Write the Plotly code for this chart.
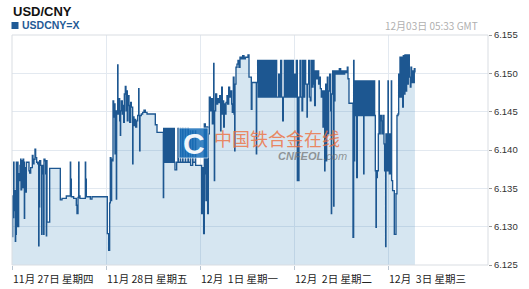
import plotly.graph_objects as go

# ---- data (hours since 11月27日 00:00, trading days only; USD/CNY rate) ----
hours = [
    0.00, 0.09, 0.17, 0.34, 0.43, 0.51, 0.68, 0.85, 0.94, 1.11, 1.19, 1.36, 1.45, 1.53, 1.70, 1.87,
    2.04, 2.21, 2.30, 2.47, 2.64, 2.81, 2.98, 3.15, 3.23, 3.40, 3.57, 3.66, 4.34, 4.51, 4.77, 5.19,
    5.36, 5.62, 5.87, 6.04, 6.30, 6.55, 6.81, 6.89, 6.98, 7.06, 7.32, 7.57, 7.66, 8.00, 8.08, 8.17,
    8.42, 8.60, 8.77, 8.85, 8.94, 9.62, 12.34, 12.77, 13.87, 14.89, 14.98, 15.15, 15.74, 16.42,
    16.59, 16.85, 17.02, 17.11, 17.36, 18.72, 18.81, 18.98, 20.00, 20.42,
    24.34, 24.68, 24.93, 25.10, 25.27, 25.44, 25.61, 25.79, 25.96, 26.13, 26.30, 26.47, 26.64, 26.72,
    26.98, 27.06, 27.23, 27.49, 27.66, 27.74, 27.91, 28.17, 28.34, 28.51, 28.68, 28.93, 29.10, 29.27,
    29.44, 29.62, 29.87, 30.04, 30.30, 30.47, 30.81, 30.89, 31.15, 31.32, 31.57, 31.83, 32.08, 32.34,
    32.42, 32.59, 32.68, 33.02, 33.36, 33.70, 34.04, 34.47, 36.59, 37.02, 38.64, 38.72, 38.98, 39.15,
    39.32, 39.49, 39.74, 39.91, 40.17, 40.42, 40.59, 40.85, 41.02, 41.27, 41.44, 41.61, 42.04, 42.38,
    42.47, 42.98, 43.06, 43.57, 43.66, 44.25, 44.34, 44.93, 45.02, 45.53, 45.61, 46.12, 46.21, 46.81,
    46.89,
    48.42, 48.68, 48.93, 49.10, 49.36, 49.53, 49.70, 49.96, 50.13, 50.38, 50.64, 50.89, 51.15, 51.32,
    51.49, 51.57, 51.66, 51.74, 52.00, 52.25, 52.51, 52.76, 53.02, 53.27, 53.36, 53.53, 53.70, 53.87,
    54.04, 54.21, 54.47, 54.64, 54.89, 55.06, 55.32, 55.57, 55.83, 56.08, 56.25, 56.51, 56.68, 56.85,
    56.93, 57.19, 57.44, 57.70, 57.95, 58.21, 58.55, 58.89, 59.23, 59.57, 60.25, 60.51, 61.10, 61.27,
    62.38, 62.47, 62.72, 62.89, 63.06, 63.23, 63.40, 63.66, 63.83, 64.08, 64.25, 64.51, 64.76, 65.02,
    65.27, 65.53, 65.79, 66.04, 66.30, 66.55, 66.81, 67.06, 67.40, 67.57, 68.08, 68.34, 68.59, 68.85,
    69.11, 69.27, 69.53, 69.79, 70.04, 70.30, 70.55, 70.81, 71.06, 71.32, 71.57, 71.83, 72.08, 72.34,
    72.59, 72.85, 72.93,
    73.19, 73.27, 73.53, 73.78, 74.04, 74.21, 74.46, 74.72, 74.97, 75.32, 75.40, 75.74, 75.91, 76.17,
    76.34, 76.59, 76.85, 77.10, 77.27, 77.44, 77.70, 77.95, 78.29, 78.46, 78.72, 78.97, 79.14, 79.40,
    79.57, 79.83, 79.91, 80.08, 80.25, 80.34, 80.51, 80.67, 80.85, 81.10, 81.36, 81.53, 81.61, 81.87,
    82.12, 82.21, 82.46, 82.63, 82.89, 83.23, 83.57, 83.91, 84.25, 84.59, 84.93, 85.27, 85.61, 85.78,
    86.04, 87.06, 87.23, 87.32, 87.49, 87.66, 87.83, 88.00, 88.17, 88.34, 88.51, 88.68, 88.94, 89.19,
    89.36, 89.62, 89.79, 89.87, 90.13, 90.30, 90.55, 90.81, 91.06, 91.32, 91.57, 91.83, 92.08, 92.34,
    92.59, 92.76, 92.93, 93.02, 93.27, 93.53, 93.70, 93.78, 94.02, 94.29, 94.44, 94.70, 94.97, 95.14,
    95.40, 95.48, 95.74, 96.00, 96.08, 96.34, 96.59, 96.85, 96.93, 97.18, 97.61, 98.04, 98.29, 98.55,
    98.72, 98.89, 99.06, 99.32, 99.49, 99.74, 99.91, 100.16, 100.33, 100.59, 100.76, 101.01, 101.18,
    101.44, 101.70, 101.86, 102.03, 102.29, 102.54, 102.71, 102.88,
]

rates = [
    6.1340, 6.1287, 6.1340, 6.1312, 6.1384, 6.1321, 6.1347, 6.1281, 6.1290, 6.1384, 6.1300, 6.1349, 6.1384, 6.1300, 6.1369, 6.1360,
    6.1380, 6.1388, 6.1348, 6.1386, 6.1351, 6.1388, 6.1384, 6.1311, 6.1377, 6.1367, 6.1345, 6.1384, 6.1373, 6.1370, 6.1377, 6.1393,
    6.1382, 6.1388, 6.1401, 6.1390, 6.1384, 6.1382, 6.1275, 6.1384, 6.1326, 6.1386, 6.1380, 6.1290, 6.1380, 6.1369, 6.1290, 6.1388,
    6.1386, 6.1369, 6.1288, 6.1386, 6.1306, 6.1376, 6.1335, 6.1337, 6.1340, 6.1384, 6.1362, 6.1339, 6.1337, 6.1328,
    6.1317, 6.1338, 6.1384, 6.1340, 6.1337, 6.1384, 6.1362, 6.1339, 6.1336, 6.1339,
    6.1291, 6.1269, 6.1331, 6.1390, 6.1334, 6.1388, 6.1386, 6.1464, 6.1443, 6.1460, 6.1395, 6.1451, 6.1336, 6.1447,
    6.1511, 6.1447, 6.1467, 6.1438, 6.1419, 6.1451, 6.1464, 6.1447, 6.1458, 6.1436, 6.1473, 6.1483, 6.1451, 6.1477,
    6.1438, 6.1471, 6.1458, 6.1436, 6.1462, 6.1456, 6.1382, 6.1443, 6.1432, 6.1440, 6.1430, 6.1438, 6.1445, 6.1480,
    6.1445, 6.1399, 6.1445, 6.1447, 6.1449, 6.1452, 6.1449, 6.1447, 6.1433, 6.1423, 6.1338, 6.1428, 6.1384, 6.1428,
    6.1384, 6.1428, 6.1384, 6.1428, 6.1384, 6.1428, 6.1384, 6.1428, 6.1384, 6.1428, 6.1384, 6.1374, 6.1384, 6.1428,
    6.1384, 6.1428, 6.1384, 6.1428, 6.1384, 6.1428, 6.1384, 6.1428, 6.1384, 6.1425, 6.1380, 6.1425, 6.1384, 6.1425,
    6.1380,
    6.1317, 6.1377, 6.1291, 6.1434, 6.1369, 6.1334, 6.1430, 6.1317, 6.1421, 6.1469, 6.1451, 6.1467, 6.1434, 6.1460,
    6.1513, 6.1451, 6.1360, 6.1451, 6.1473, 6.1460, 6.1467, 6.1462, 6.1471, 6.1425, 6.1464, 6.1482, 6.1447, 6.1464,
    6.1430, 6.1460, 6.1447, 6.1462, 6.1471, 6.1460, 6.1482, 6.1469, 6.1477, 6.1460, 6.1449, 6.1495, 6.1447, 6.1399,
    6.1486, 6.1508, 6.1512, 6.1517, 6.1508, 6.1521, 6.1519, 6.1523, 6.1519, 6.1521, 6.1524, 6.1495, 6.1453, 6.1488,
    6.1395, 6.1488, 6.1517, 6.1469, 6.1517, 6.1469, 6.1517, 6.1469, 6.1517, 6.1469, 6.1517, 6.1469, 6.1517, 6.1469,
    6.1517, 6.1469, 6.1517, 6.1469, 6.1517, 6.1469, 6.1517, 6.1469, 6.1517, 6.1469, 6.1499, 6.1469, 6.1517, 6.1469,
    6.1438, 6.1469, 6.1517, 6.1469, 6.1517, 6.1469, 6.1517, 6.1469, 6.1517, 6.1469, 6.1517, 6.1469, 6.1499, 6.1469,
    6.1517, 6.1360, 6.1469,
    6.1360, 6.1469, 6.1517, 6.1469, 6.1451, 6.1517, 6.1469, 6.1517, 6.1486, 6.1443, 6.1486, 6.1517, 6.1469, 6.1464,
    6.1517, 6.1482, 6.1517, 6.1486, 6.1458, 6.1503, 6.1493, 6.1503, 6.1486, 6.1495, 6.1480, 6.1469, 6.1477, 6.1430,
    6.1477, 6.1373, 6.1443, 6.1486, 6.1386, 6.1464, 6.1495, 6.1421, 6.1477, 6.1499, 6.1451, 6.1317, 6.1473, 6.1503,
    6.1327, 6.1464, 6.1503, 6.1499, 6.1503, 6.1499, 6.1506, 6.1499, 6.1503, 6.1499, 6.1503, 6.1501, 6.1508, 6.1493,
    6.1461, 6.1286, 6.1517, 6.1386, 6.1490, 6.1445, 6.1490, 6.1364, 6.1490, 6.1445, 6.1490, 6.1445, 6.1490, 6.1445,
    6.1490, 6.1445, 6.1369, 6.1490, 6.1445, 6.1490, 6.1445, 6.1490, 6.1445, 6.1490, 6.1445, 6.1490, 6.1445, 6.1490,
    6.1445, 6.1373, 6.1299, 6.1364, 6.1373, 6.1421, 6.1490, 6.1421, 6.1445, 6.1438, 6.1421, 6.1445, 6.1408, 6.1373,
    6.1274, 6.1421, 6.1373, 6.1490, 6.1421, 6.1369, 6.1421, 6.1490, 6.1360, 6.1347, 6.1290, 6.1343, 6.1445, 6.1447,
    6.1499, 6.1469, 6.1521, 6.1469, 6.1521, 6.1456, 6.1523, 6.1473, 6.1524, 6.1477, 6.1524, 6.1486, 6.1524,
    6.1495, 6.1482, 6.1508, 6.1488, 6.1503, 6.1488, 6.1506, 6.1501,
]

day_ticks = [0, 24, 48, 72, 96]
day_labels = ["11月 27日 星期四", "11月 28日 星期五", "12月 \u00a01日 星期一",
              "12月 \u00a02日 星期二", "12月 \u00a03日 星期三"]
y_ticks = [6.125, 6.130, 6.135, 6.140, 6.145, 6.150, 6.155]
title_text = "USD/CNY"
series_name = "USDCNY=X"
timestamp = "12月03日 05:33 GMT"

# ---- layout geometry (pixels) ----
W, H = 529, 289
L, R, T, B = 12, 41, 35, 24
PW, PH = W - L - R, H - T - B


def px(sx):
    return (sx - L) / PW


def py(sy):
    return (H - B - sy) / PH


FONT = "Liberation Sans, Arial, Noto Sans CJK SC, sans-serif"
CJK = "Noto Sans CJK SC, Liberation Sans, sans-serif"
LINE = "#1d5791"

fig = go.Figure()
fig.add_trace(go.Scatter(
    x=hours, y=rates, mode="lines", line_shape="hv",
    line=dict(color=LINE, width=1.35),
    fill="tozeroy", fillcolor="rgba(50,130,185,0.2)",
    hoverinfo="skip", showlegend=False,
))

annotations = []
for t, lab in zip(day_ticks, day_labels):
    annotations.append(dict(
        x=t, xref="x", y=0, yref="paper", yshift=-13, xanchor="left", yanchor="middle",
        text=lab, showarrow=False, font=dict(family=CJK, size=10.5, color="#222"), xshift=-1,
    ))

annotations += [
    dict(x=px(11), y=py(12), xref="paper", yref="paper", xanchor="left", yanchor="middle",
         text="<b>" + title_text + "</b>", showarrow=False,
         font=dict(family=FONT, size=13, color="#111")),
    dict(x=px(20), y=py(25.5), xref="paper", yref="paper", xanchor="left", yanchor="middle",
         text="<b>" + series_name + "</b>", showarrow=False,
         font=dict(family=FONT, size=10.5, color="#1f5a96")),
    dict(x=px(480), y=py(25.5), xref="paper", yref="paper", xanchor="right", yanchor="middle",
         text=timestamp, showarrow=False,
         font=dict(family=CJK, size=10, color="#b0b0b0")),
    # watermark
    dict(x=px(193.5), y=py(143), xref="paper", yref="paper", xanchor="center", yanchor="middle",
         text="<b>C</b>", showarrow=False,
         font=dict(family=FONT, size=30, color="rgba(255,255,255,0.95)")),
    dict(x=px(212), y=py(138), xref="paper", yref="paper", xanchor="left", yanchor="middle",
         text="中国铁合金在线", showarrow=False,
         font=dict(family=CJK, size=18, color="rgba(238,110,60,0.8)")),
    dict(x=px(349), y=py(156), xref="paper", yref="paper", xanchor="right", yanchor="middle",
         text="<b><i>CNFEOL</i></b><i>.com</i>", showarrow=False,
         font=dict(family=FONT, size=11, color="rgba(110,110,110,0.7)")),
]

shapes = [
    dict(type="rect", xref="paper", yref="paper", x0=px(11.5), x1=px(18.5), y0=py(29), y1=py(22),
         fillcolor="#1f5a96", line=dict(width=0)),
    dict(type="rect", xref="paper", yref="paper", x0=px(179), x1=px(208), y0=py(158), y1=py(128),
         fillcolor="rgba(25,110,185,0.85)", line=dict(color="rgba(255,255,255,0.6)", width=1),
         layer="above"),
    dict(type="rect", xref="paper", yref="paper", x0=0, x1=1, y0=0, y1=1,
         line=dict(color="#d9dde2", width=1), fillcolor="rgba(0,0,0,0)", layer="above"),
]

fig.update_layout(
    width=W, height=H, autosize=False,
    margin=dict(l=L, r=R, t=T, b=B, pad=0),
    paper_bgcolor="white", plot_bgcolor="white",
    showlegend=False,
    annotations=annotations, shapes=shapes,
    xaxis=dict(range=[0, PW * 24 / 94], tickvals=day_ticks, showticklabels=False,
               ticks="outside", ticklen=4, tickcolor="#b8c4d0", showgrid=True,
               gridcolor="#e3e9f0", gridwidth=1, zeroline=False, showline=False, fixedrange=True),
    yaxis=dict(range=[6.125, 6.155], tickvals=y_ticks, ticktext=[f"{v:.3f}" for v in y_ticks],
               side="right", ticks="outside", ticklen=3, tickcolor="#999",
               tickfont=dict(family=FONT, size=9.5, color="#333"),
               showgrid=True, gridcolor="#e3e9f0", gridwidth=1, zeroline=False,
               showline=False, fixedrange=True),
)

fig.write_html("out.html")
